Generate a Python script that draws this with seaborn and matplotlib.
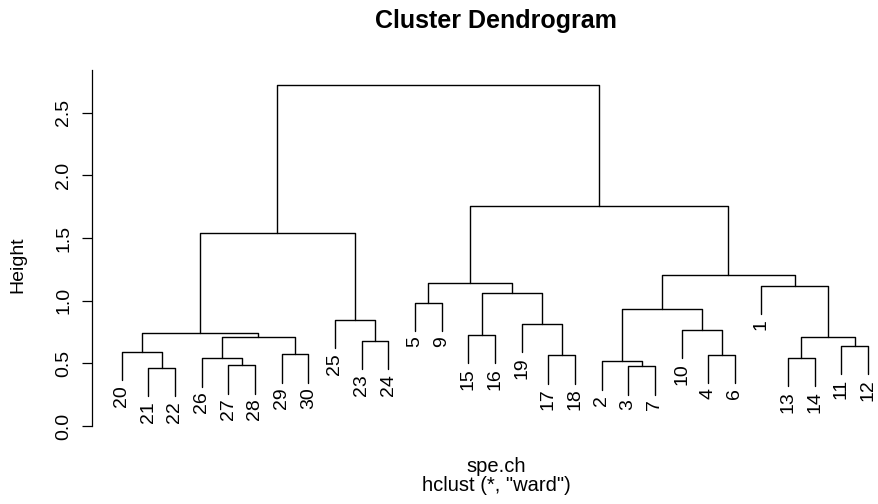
import numpy as np
import pandas as pd
import matplotlib
matplotlib.use("Agg")
import matplotlib.pyplot as plt
import seaborn as sns

# ---------------------------
# Data
# ---------------------------

# leaf order left to right (site 8 is not in spe.ch)
leaf_order = [20, 21, 22, 26, 27, 28, 29, 30, 25, 23, 24, 5, 9, 15, 16,
              19, 17, 18, 2, 3, 7, 10, 4, 6, 1, 13, 14, 11, 12]

# R style merge table: negative = leaf, positive = earlier merge row (1-based)
merge_left = [-21, -3, -27, -2, -26, -13, -17, -4, -29, -20, -11, -23, 6, 5,
              -15, 10, -10, -19, -25, 4, -5, 15, -1, 21, 20, 16, 24, 26]
merge_right = [-22, -7, -28, 2, 3, -14, -18, -6, -30, 1, -12, -24, 11, 9,
               -16, 14, 8, 7, 12, 17, -9, 18, 13, 22, 23, 19, 25, 27]
merge_height = [0.465, 0.476, 0.483, 0.515, 0.539, 0.544, 0.563, 0.566,
                0.571, 0.592, 0.640, 0.680, 0.707, 0.711, 0.725, 0.743,
                0.765, 0.813, 0.845, 0.930, 0.980, 1.065, 1.116, 1.137,
                1.206, 1.543, 1.755, 2.720]

y_ticks = [0.0, 0.5, 1.0, 1.5, 2.0, 2.5]

# ---------------------------
# Build segments
# ---------------------------

hang = 0.1 * (max(merge_height) - min(merge_height))
leaf_x = {leaf: i + 1 for i, leaf in enumerate(leaf_order)}
node_x = []
rows = []
leaf_ends = {}

for i, (l, r, h) in enumerate(zip(merge_left, merge_right, merge_height)):
    pts = []
    for child in (l, r):
        if child < 0:
            cx = leaf_x[-child]
            cy = h - hang
            leaf_ends[-child] = cy
        else:
            cx = node_x[child - 1]
            cy = merge_height[child - 1]
        pts.append((cx, cy))
    node_x.append((pts[0][0] + pts[1][0]) / 2)
    path = [pts[0], (pts[0][0], h), (pts[1][0], h), pts[1]]
    for k, (px, py) in enumerate(path):
        rows.append({"seg": i, "step": k, "x": px, "y": py})

seg_df = pd.DataFrame(rows)

# ---------------------------
# Plot
# ---------------------------

sns.set_theme(style="white")
plt.rcParams["font.family"] = ["Liberation Sans", "DejaVu Sans"]
plt.rcParams["text.color"] = "black"
plt.rcParams["ytick.color"] = "black"
plt.rcParams["ytick.labelcolor"] = "black"

fig = plt.figure(figsize=(8.79, 5.04), dpi=100)
ax = fig.add_axes([91.8 / 879, 78 / 504, (879 - 91.8) / 879, 356 / 504])

sns.lineplot(
    data=seg_df,
    x="x",
    y="y",
    units="seg",
    estimator=None,
    sort=False,
    color="black",
    linewidth=1.0,
    ax=ax
)

for leaf, y_end in leaf_ends.items():
    ax.text(leaf_x[leaf], y_end - 0.04, str(leaf), rotation=90,
            ha="center", va="top", fontsize=14, color="black", clip_on=False)

ax.set_xlim(-0.12, (879 - 91.8) / 26.66 - 0.12)
ax.set_ylim(0, 2.84)
ax.set_xticks([])
ax.set_yticks(y_ticks)
ax.set_yticklabels([f"{t:.1f}" for t in y_ticks], rotation=90, va="center",
                   fontsize=14, color="black")
ax.tick_params(axis="y", direction="out", length=7.2, width=0.9, pad=7,
               color="black", left=True)
ax.set_xlabel("")
ax.set_ylabel("")

for side in ["top", "right", "bottom"]:
    ax.spines[side].set_visible(False)
ax.spines["left"].set_color("black")
ax.spines["left"].set_linewidth(0.9)

fig.text(496 / 879, 1 - 21 / 504, "Cluster Dendrogram", ha="center",
         va="center", fontsize=18, fontweight="bold", color="black")
fig.text(17.5 / 879, 1 - 265 / 504, "Height", rotation=90, ha="center",
         va="center", fontsize=14, color="black")
fig.text(496 / 879, 1 - 491 / 504, 'spe.ch\nhclust (*, "ward")',
         ha="center", va="baseline", multialignment="center",
         linespacing=0.97, fontsize=14.5, color="black")

plt.savefig("out.png", dpi=100)
plt.close()
